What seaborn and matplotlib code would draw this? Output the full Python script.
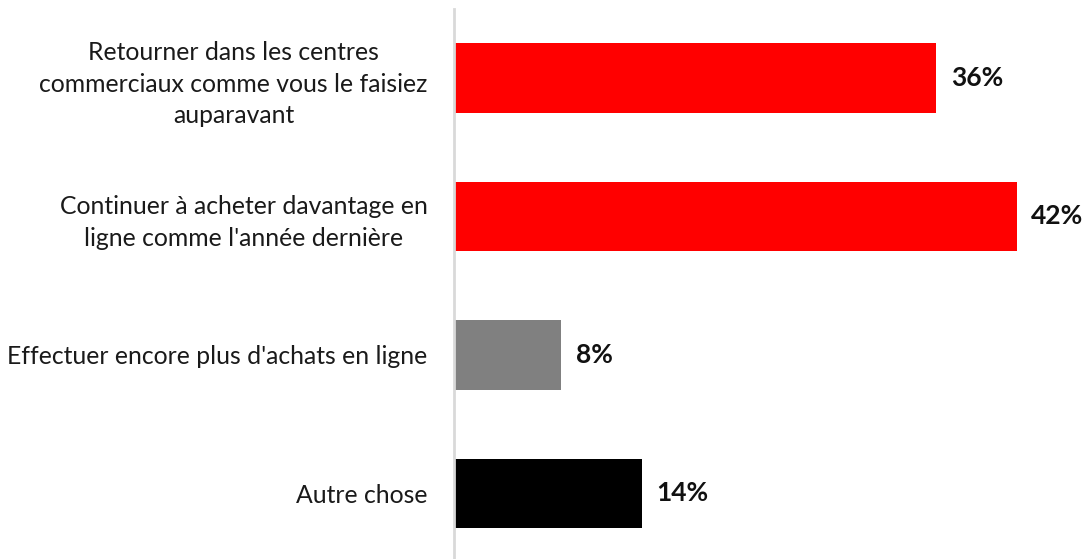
import matplotlib
matplotlib.use("Agg")
import matplotlib.pyplot as plt
import pandas as pd
import seaborn as sns

categories = [
    "Retourner dans les centres\ncommerciaux comme vous le faisiez\nauparavant",
    "Continuer à acheter davantage en\nligne comme l'année dernière",
    "Effectuer encore plus d'achats en ligne",
    "Autre chose",
]
values = [36, 42, 8, 14]
colors = ["#ff0000", "#ff0000", "#808080", "#000000"]

df = pd.DataFrame({"label": categories, "value": values})

sns.set_style("white")
plt.rcParams["font.family"] = ["Lato", "DejaVu Sans"]

fig = plt.figure(figsize=(10.89, 5.59), dpi=100)
ax = fig.add_axes([454 / 1089, 0, 1 - 454 / 1089, 550 / 559])

sns.barplot(
    data=df,
    x="value",
    y="label",
    hue="label",
    palette=colors,
    saturation=1,
    orient="h",
    width=0.5,
    linewidth=0,
    legend=False,
    ax=ax,
)

ax.set_xlim(0, 47.4)
ax.set_ylim(3.473, -0.498)
ax.set_xlabel("")
ax.set_ylabel("")
ax.set_xticks([])

for side in ["top", "right", "bottom"]:
    ax.spines[side].set_visible(False)
ax.spines["left"].set_color("#d9d9d9")
ax.spines["left"].set_linewidth(2)

ax.tick_params(axis="y", length=0, pad=19, labelsize=17.8)
for lbl in ax.get_yticklabels():
    lbl.set_multialignment("center")
    lbl.set_linespacing(1.45)
    lbl.set_color("#1a1a1a")

for i, v in enumerate(values):
    ax.text(v + 1.1, i, f"{v}%", va="center", ha="left",
            fontsize=19, fontweight="bold", color="#111111")

fig.savefig("out.png", dpi=100)
